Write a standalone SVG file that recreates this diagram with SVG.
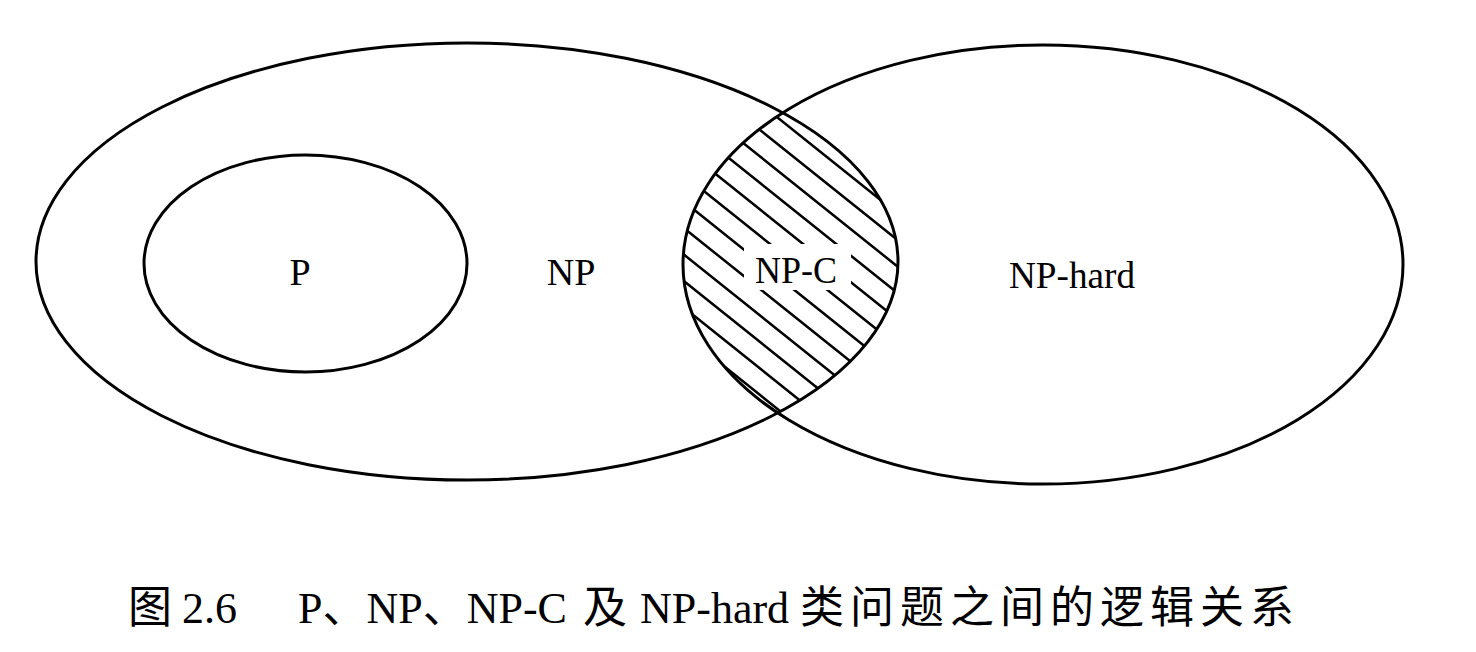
<svg xmlns="http://www.w3.org/2000/svg" width="1476" height="652" viewBox="0 0 1476 652">
  <style>
    .ring { fill: none; stroke: #000; stroke-width: 3; }
    .hatch { fill: none; stroke: #000; stroke-width: 2.5; }
    .lbl { font-family: "Liberation Serif", "Times New Roman", serif; font-size: 38px; fill: #000; text-anchor: middle; }
    .cap { font-family: "Liberation Serif", "Noto Sans CJK SC", serif; font-size: 44px; fill: #000; }
  </style>
  <defs>
    <clipPath id="clipNP"><ellipse cx="467" cy="261.5" rx="431" ry="218.5"/></clipPath>
    <clipPath id="clipNPH"><ellipse cx="1043" cy="264.5" rx="360" ry="219.5"/></clipPath>
  </defs>
  <rect width="1476" height="652" fill="#fff"/>

  <g id="npc-hatch" clip-path="url(#clipNP)">
    <g clip-path="url(#clipNPH)">
      <path class="hatch" d="M600,-24.5 L1000,295.5 M600,2 L1000,322 M600,28.5 L1000,348.5 M600,55 L1000,375 M600,81.5 L1000,401.5 M600,108 L1000,428 M600,134.5 L1000,454.5 M600,161 L1000,481 M600,187.5 L1000,507.5 M600,214 L1000,534 M600,240.5 L1000,560.5 M600,267 L1000,587"/>
      <rect x="744" y="244" width="107" height="46" fill="#fff"/>
    </g>
  </g>

  <g id="np">
    <ellipse class="ring" cx="467" cy="261.5" rx="431" ry="218.5"/>
    <text class="lbl" x="571" y="285">NP</text>
  </g>
  <g id="p">
    <ellipse class="ring" cx="305.5" cy="263.5" rx="161.5" ry="108.5"/>
    <text class="lbl" x="300" y="285">P</text>
  </g>
  <g id="nphard">
    <ellipse class="ring" cx="1043" cy="264.5" rx="360" ry="219.5"/>
    <text class="lbl" x="1072" y="288" textLength="126" lengthAdjust="spacingAndGlyphs">NP-hard</text>
  </g>
  <g id="npc">
    <text class="lbl" x="796" y="283" textLength="82" lengthAdjust="spacingAndGlyphs">NP-C</text>
  </g>

  <g id="connectors"></g>

  <g id="caption">
    <text class="cap" y="623"><tspan x="128">图</tspan><tspan x="182">2.6</tspan><tspan x="298">P、NP、NP-C</tspan><tspan x="583">及</tspan><tspan x="640">NP-hard</tspan><tspan x="800" letter-spacing="6">类问题之间的逻辑关系</tspan></text>
  </g>
</svg>
